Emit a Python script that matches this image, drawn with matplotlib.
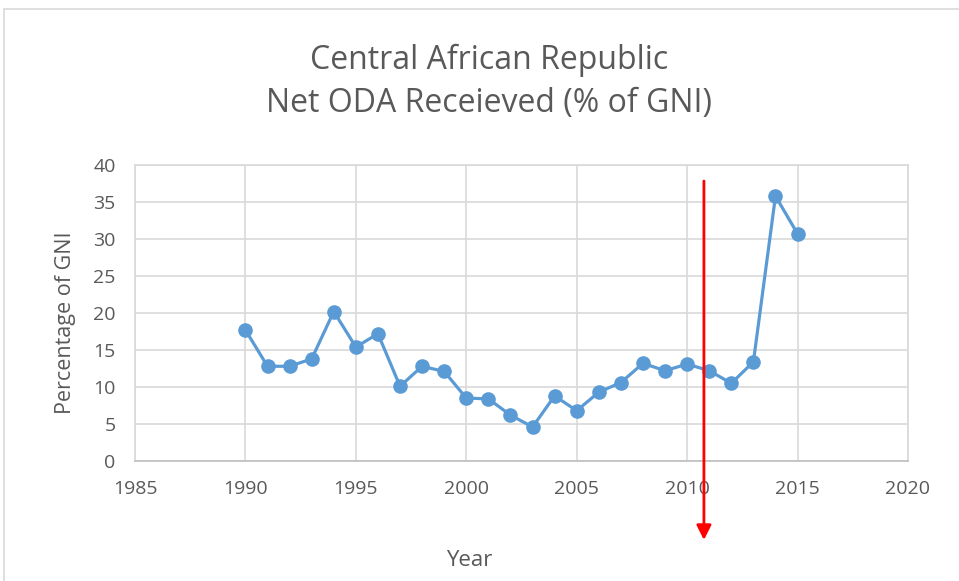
import matplotlib
matplotlib.use("Agg")
import matplotlib.pyplot as plt
from matplotlib.patches import Rectangle

years = list(range(1990, 2016))
oda_pct = [17.7, 12.8, 12.8, 13.8, 20.2, 15.4, 17.2, 10.1, 12.8, 12.1,
           8.5, 8.4, 6.2, 4.6, 8.8, 6.8, 9.3, 10.6, 13.2, 12.2,
           13.1, 12.2, 10.5, 13.4, 35.8, 30.7]
x_ticks = [1985, 1990, 1995, 2000, 2005, 2010, 2015, 2020]
y_ticks = [0, 5, 10, 15, 20, 25, 30, 35, 40]
marker_year = 2010.76  # red arrow position

TEXT = "#595959"
GRID = "#D9D9D9"
LINE = "#5B9BD5"

plt.rcParams["font.family"] = ["Open Sans", "DejaVu Sans"]

fig = plt.figure(figsize=(9.59, 5.81), dpi=100)
ax = fig.add_axes([135 / 959, 1 - 461 / 581, (908 - 135) / 959, (461 - 165) / 581])

ax.plot(years, oda_pct, color=LINE, lw=2.3, marker="o", ms=9.5, zorder=3)

ax.set_xlim(1985, 2020)
ax.set_ylim(0, 40)
ax.set_xticks(x_ticks)
ax.set_yticks(y_ticks)
ax.grid(True, color=GRID, lw=1.2)
ax.tick_params(length=0, labelsize=14, labelcolor=TEXT)
ax.tick_params(axis="x", pad=14)
ax.tick_params(axis="y", pad=14)
for s in ax.spines.values():
    s.set_color(GRID)
    s.set_linewidth(1.2)
ax.spines["bottom"].set_color("#BFBFBF")

fig.text(469 / 959, 1 - 561 / 581, "Year", ha="center", va="center",
         fontsize=16, color=TEXT)
fig.text(65 / 959, 1 - 323 / 581, "Percentage of GNI", ha="center", va="center",
         rotation=90, fontsize=15.5, color=TEXT)

fig.text(489 / 959, 1 - 60 / 581, "Central African Republic", ha="center", va="center",
         fontsize=23, color=TEXT)
fig.text(489 / 959, 1 - 104 / 581, "Net ODA Receieved (% of GNI)", ha="center", va="center",
         fontsize=23, color=TEXT)

ax.annotate("", xy=(marker_year, 1 - 540 / 581), xycoords=("data", "figure fraction"),
            xytext=(marker_year, 1 - 181 / 581), textcoords=("data", "figure fraction"),
            arrowprops=dict(arrowstyle="-|>", color="red", lw=2, mutation_scale=22,
                            shrinkA=0, shrinkB=0), annotation_clip=False)

fig.patches.append(Rectangle((4 / 959, -0.05), 1.2, 1 - 9 / 581 + 0.05, transform=fig.transFigure,
                             fill=False, edgecolor=GRID, lw=1.2))

fig.savefig("out.png", dpi=100, facecolor="white")
